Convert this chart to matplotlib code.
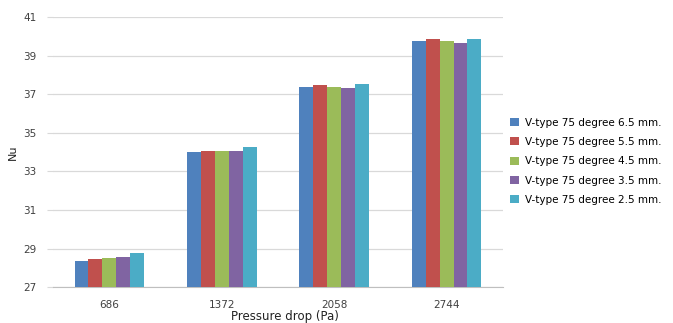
import numpy as np
import matplotlib
matplotlib.use("Agg")
import matplotlib.pyplot as plt

categories = ["686", "1372", "2058", "2744"]
series_labels = [
    "V-type 75 degree 6.5 mm.",
    "V-type 75 degree 5.5 mm.",
    "V-type 75 degree 4.5 mm.",
    "V-type 75 degree 3.5 mm.",
    "V-type 75 degree 2.5 mm.",
]
nu_65 = [28.38, 34.00, 37.40, 39.77]
nu_55 = [28.45, 34.05, 37.46, 39.84]
nu_45 = [28.50, 34.05, 37.39, 39.75]
nu_35 = [28.56, 34.07, 37.30, 39.67]
nu_25 = [28.78, 34.28, 37.54, 39.86]
y_ticks = [27, 29, 31, 33, 35, 37, 39, 41]

colors = ["#4F81BD", "#C0504D", "#9BBB59", "#8064A2", "#4BACC6"]
series = [nu_65, nu_55, nu_45, nu_35, nu_25]

fig = plt.figure(figsize=(6.73, 3.23), dpi=100)
ax = fig.add_axes([0.079, 0.111, 0.668, 0.836])

x = np.arange(len(categories))
width = 0.124
base = 27
for i, (vals, lab, col) in enumerate(zip(series, series_labels, colors)):
    offs = (i - 2) * width
    ax.bar(x + offs, np.array(vals) - base, width, bottom=base, color=col,
           label=lab, zorder=3, linewidth=0)

ax.set_xlim(-0.5, len(categories) - 0.5)
ax.set_ylim(27, 41)
ax.set_yticks(y_ticks)
ax.set_yticklabels([str(t) for t in y_ticks], fontsize=7.5, color="#404040")
ax.set_xticks(x)
ax.set_xticklabels(categories, fontsize=7.5, color="#404040")
ax.yaxis.grid(True, color="#d9d9d9", linewidth=0.9, zorder=0)
ax.set_axisbelow(True)
for s in ["top", "right", "left"]:
    ax.spines[s].set_visible(False)
ax.spines["bottom"].set_color("#bfbfbf")
ax.tick_params(axis="y", length=4, color="#d9d9d9", pad=8)
ax.tick_params(axis="x", length=0, pad=9)

ax.set_ylabel("Nu", fontsize=8, color="#222222", labelpad=4)
ax.set_xlabel("Pressure drop (Pa)", fontsize=8.5, color="#222222", labelpad=1)
ax.xaxis.set_label_coords(0.515, -0.085)

ax.legend(loc="center left", bbox_to_anchor=(1.008, 0.466), frameon=False,
          fontsize=7.5, handlelength=0.8, handleheight=0.8, handletextpad=0.6,
          labelspacing=0.9, borderaxespad=0.0)

fig.savefig("out.png", dpi=100)
